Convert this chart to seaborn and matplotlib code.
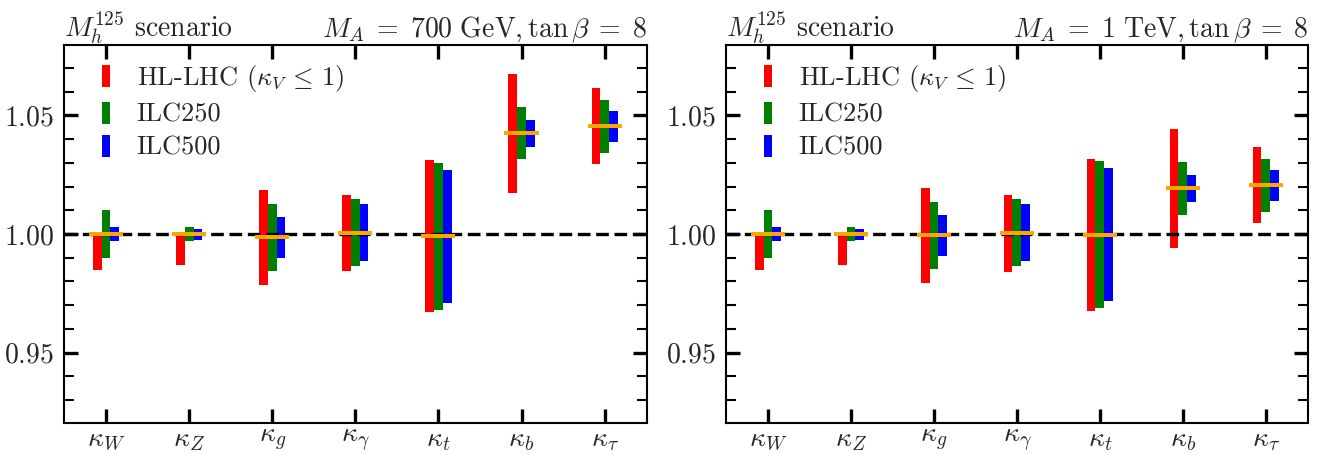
import numpy as np
import pandas as pd
import matplotlib
matplotlib.use("Agg")
import matplotlib.pyplot as plt
from matplotlib.patches import Patch
from matplotlib.ticker import MultipleLocator, FixedLocator, FixedFormatter
import seaborn as sns

# ---------------- data ----------------
categories = [r"$\kappa_W$", r"$\kappa_Z$", r"$\kappa_g$", r"$\kappa_\gamma$",
              r"$\kappa_t$", r"$\kappa_b$", r"$\kappa_\tau$"]
scenarios = [r"HL-LHC ($\kappa_V\,\leq\,1$)", "ILC250", "ILC500"]
colors = ["#ff0000", "#008000", "#0000ff"]

# M_A = 700 GeV, tan beta = 8
central_700 = [1.0000, 1.0000, 0.9987, 1.0004, 0.9993, 1.0426, 1.0456]
hl_lo_700 = [0.9848, 0.9869, 0.9785, 0.9844, 0.9670, 1.0173, 1.0295]
hl_hi_700 = [1.0000, 1.0000, 1.0184, 1.0163, 1.0311, 1.0674, 1.0615]
ilc250_lo_700 = [0.9899, 0.9970, 0.9844, 0.9865, 0.9680, 1.0314, 1.0342]
ilc250_hi_700 = [1.0100, 1.0028, 1.0125, 1.0146, 1.0301, 1.0535, 1.0564]
ilc500_lo_700 = [0.9970, 0.9975, 0.9899, 0.9886, 0.9709, 1.0367, 1.0388]
ilc500_hi_700 = [1.0028, 1.0020, 1.0070, 1.0125, 1.0269, 1.0480, 1.0518]

# M_A = 1 TeV, tan beta = 8
central_1000 = [1.0000, 1.0000, 0.9994, 1.0004, 0.9996, 1.0194, 1.0207]
hl_lo_1000 = [0.9848, 0.9868, 0.9792, 0.9842, 0.9675, 0.9941, 1.0046]
hl_hi_1000 = [1.0000, 1.0000, 1.0193, 1.0163, 1.0316, 1.0442, 1.0366]
ilc250_lo_1000 = [0.9897, 0.9969, 0.9851, 0.9864, 0.9688, 1.0080, 1.0093]
ilc250_hi_1000 = [1.0100, 1.0028, 1.0134, 1.0146, 1.0308, 1.0302, 1.0315]
ilc500_lo_1000 = [0.9969, 0.9973, 0.9906, 0.9885, 0.9717, 1.0135, 1.0139]
ilc500_hi_1000 = [1.0028, 1.0020, 1.0079, 1.0125, 1.0278, 1.0248, 1.0269]

ytick_vals = [0.95, 1.00, 1.05]
ytick_labels = [r"$0.95$", r"$1.00$", r"$1.05$"]
left_title = r"$M_h^{125}$ scenario"
right_titles = [r"$M_A\;=\;700\ \mathrm{GeV}, \tan\beta\;=\;8$",
                r"$M_A\;=\;1\ \mathrm{TeV}, \tan\beta\;=\;8$"]

panels = [
    (central_700, [(hl_lo_700, hl_hi_700), (ilc250_lo_700, ilc250_hi_700),
                   (ilc500_lo_700, ilc500_hi_700)]),
    (central_1000, [(hl_lo_1000, hl_hi_1000), (ilc250_lo_1000, ilc250_hi_1000),
                    (ilc500_lo_1000, ilc500_hi_1000)]),
]

# ---------------- style ----------------
sns.set_theme(style="ticks")
plt.rcParams["font.family"] = ["cmr10", "DejaVu Serif"]
plt.rcParams["mathtext.fontset"] = "cm"
plt.rcParams["axes.unicode_minus"] = False
plt.rcParams["axes.formatter.use_mathtext"] = True

FS = 20
LFS = 19
fig = plt.figure(figsize=(13.22, 4.55), dpi=100)
W, H = 1322, 455
axes = [fig.add_axes([64 / W, 1 - 423 / H, 583 / W, 378 / H]),
        fig.add_axes([726 / W, 1 - 423 / H, 582 / W, 378 / H])]

for ax, (central, ranges), rtitle in zip(axes, panels, right_titles):
    rows = []
    for scen, (lo, hi) in zip(scenarios, ranges):
        for cat, l, h in zip(categories, lo, hi):
            rows.append({"cat": cat, "scenario": scen, "lo": l, "span": h - l})
    df = pd.DataFrame(rows)
    sns.barplot(data=df, x="cat", y="span", hue="scenario", order=categories,
                hue_order=scenarios, palette=colors, width=0.315, dodge=True,
                errorbar=None, legend=False, saturation=1, linewidth=0,
                ax=ax, zorder=2)
    # shift bars so that they float between low and high
    for scen, cont in zip(scenarios, ax.containers):
        lows = df[df["scenario"] == scen].set_index("cat").loc[categories, "lo"].values
        for patch, l in zip(cont.patches, lows):
            patch.set_y(l)

    ax.axhline(1.0, color="black", lw=2.4, linestyle=(0, (3.8, 1.7)), zorder=3)
    xs = np.arange(len(categories))
    ax.hlines(central, xs - 0.205, xs + 0.205, color="#ffa500", lw=2.9, zorder=4)

    ax.set_xlim(-0.506, 6.51)
    ax.set_ylim(0.9204, 1.0796)
    ax.set_xlabel("")
    ax.set_ylabel("")
    ax.xaxis.set_major_locator(FixedLocator(list(xs)))
    ax.xaxis.set_major_formatter(FixedFormatter(categories))
    ax.yaxis.set_major_locator(FixedLocator(ytick_vals))
    ax.yaxis.set_major_formatter(FixedFormatter(ytick_labels))
    ax.yaxis.set_minor_locator(MultipleLocator(0.01))
    ax.tick_params(axis="both", which="both", direction="in", top=True, right=True,
                   labelsize=FS, color="black")
    ax.tick_params(axis="both", which="major", length=10, width=2.4, pad=7)
    ax.tick_params(axis="x", which="major", pad=3)
    ax.tick_params(axis="y", which="minor", length=7, width=1.5)
    ax.tick_params(axis="x", which="minor", bottom=False, top=False)
    for sp in ax.spines.values():
        sp.set_linewidth(1.5)
        sp.set_color("black")
        sp.set_visible(True)

    ax.set_title(left_title, loc="left", fontsize=FS, pad=6)
    ax.set_title(rtitle, loc="right", fontsize=FS, pad=6)

    handles = [Patch(facecolor=c, edgecolor="none") for c in colors]
    ax.legend(handles, scenarios, loc="upper left", frameon=False, fontsize=LFS,
              handlelength=0.33, handleheight=0.9, handletextpad=1.0,
              labelspacing=0.3, borderpad=0, borderaxespad=0,
              bbox_to_anchor=(37.6 / 583, 1 - 18 / 378))

fig.savefig("out.png", dpi=100)
